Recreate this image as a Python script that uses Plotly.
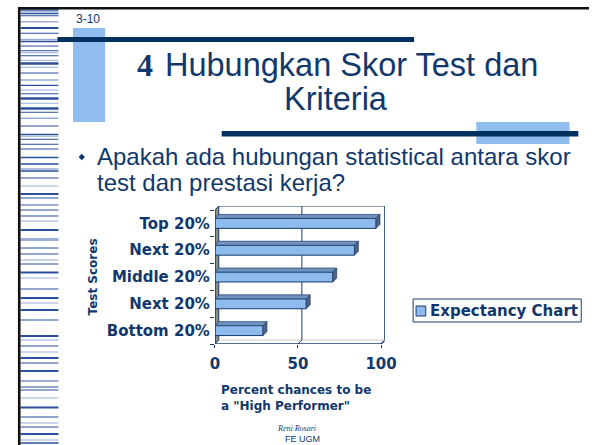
import plotly.graph_objects as go

# ---------------- data ----------------
categories = ["Bottom 20%", "Next 20%", "Middle 20%", "Next 20%", "Top 20%"]
values = [29, 55, 71, 84, 97]
x_ticks = [0, 50, 100]
series_name = "Expectancy Chart"
x_title = "Percent chances to be<br>a \"High Performer\""
y_title = "Test Scores"

# ---------------- styling ----------------
W, H = 601, 445
NAVY = "#12386b"
DARK = "#00315f"
LIGHT = "#8fbdef"
BAR_FILL = "#8dbbee"
BAR_LINE = "#1b3a6b"
TOP_FACE = "#6f93bf"
SIDE_FACE = "#50647f"
WALL = "#8a8a8a"

def px(x):
    return x / W

def py(y):
    return 1 - y / H

DX = 4 / 1.71      # 3D depth in x data units
DY = 4 / 26.8      # 3D depth in y data units
BW = 0.37          # bar thickness
pos = list(range(len(categories)))

fig = go.Figure()
fig.add_trace(go.Bar(
    x=values, y=pos, orientation="h", width=BW, name=series_name,
    marker=dict(color=BAR_FILL, line=dict(color=BAR_LINE, width=1)),
    showlegend=False, hoverinfo="x+y",
))

shapes = []

# ---- slide decoration ----
stripes = [
    (10, 1.5, "d"), (11.7, 1, "l"), (13.5, 1.5, "d"), (15.7, 1, "d"), (21.7, 1.5, "l"),
    (28, 2, "d"), (33.3, 1, "d"), (39.5, 1.5, "l"), (41.5, 1.5, "d"), (46, 1, "d"),
    (50.7, 1, "d"), (52.7, 1, "l"), (55.7, 1, "d"), (60.3, 1, "l"), (63.5, 2.5, "d"),
    (67.3, 1, "l"), (73, 1, "d"), (80, 1.5, "l"), (85.3, 1.2, "d"), (90, 1, "l"),
    (93.7, 1, "d"), (98.5, 2.5, "d"), (103.3, 1, "l"), (108.5, 2.5, "d"), (112.3, 1, "d"),
    (118.3, 1.5, "l"), (126, 1, "d"), (134.5, 1.5, "d"), (136.3, 1, "l"), (139.3, 1, "d"),
    (144.3, 1, "d"), (149, 1.2, "d"), (157.5, 1.5, "d"), (164, 1.5, "d"), (169, 1.5, "l"),
    (171, 1.5, "d"), (178, 1, "d"), (186, 1, "l"), (194, 2, "d"), (198, 1, "d"),
    (205, 2, "l"), (210, 1, "d"), (216, 1, "d"), (221, 1, "l"), (230, 2, "d"),
    (239.5, 3, "l"), (248, 1, "d"), (254, 1, "d"), (260, 1, "l"), (264, 1, "d"),
    (272.5, 2, "d"), (278, 1, "l"), (289, 1, "d"), (298, 2, "d"), (303, 1, "l"),
    (310, 2, "d"), (320, 1, "d"), (336, 2, "d"), (340, 1, "l"), (346, 1, "d"),
    (352, 1, "l"), (358, 2, "d"), (363, 1, "d"), (371, 2, "d"), (381, 2, "l"),
    (387, 1, "d"), (390, 1, "d"), (398, 1, "l"), (407.5, 2, "d"), (417, 1, "d"),
    (423, 1, "l"), (427, 1, "d"), (434, 2, "d"), (440, 1, "l"), (443, 1.5, "d"),
]
for y, h, s in stripes:
    shapes.append(dict(type="rect", xref="paper", yref="paper", layer="below",
                       x0=px(16), x1=px(55), y0=py(y - h / 2), y1=py(y + h / 2),
                       fillcolor="#2a4f9c" if s == "d" else "#9aaed6", line=dict(width=0)))
# black border
shapes.append(dict(type="rect", xref="paper", yref="paper", x0=px(14), x1=px(601),
                   y0=py(9.5), y1=py(7), fillcolor="#111111", line=dict(width=0)))
shapes.append(dict(type="rect", xref="paper", yref="paper", x0=px(13.3), x1=px(16),
                   y0=py(445), y1=py(7), fillcolor="#111111", line=dict(width=0)))
# header light blue blocks and dark rules
shapes.append(dict(type="rect", xref="paper", yref="paper", x0=px(70), x1=px(103),
                   y0=py(122), y1=py(28), fillcolor=LIGHT, line=dict(width=0)))
shapes.append(dict(type="rect", xref="paper", yref="paper", x0=px(54), x1=px(421),
                   y0=py(42), y1=py(37), fillcolor=DARK, line=dict(width=0)))
shapes.append(dict(type="rect", xref="paper", yref="paper", x0=px(485), x1=px(581),
                   y0=py(144), y1=py(122), fillcolor=LIGHT, line=dict(width=0)))
shapes.append(dict(type="rect", xref="paper", yref="paper", x0=px(223), x1=px(590),
                   y0=py(136.5), y1=py(131), fillcolor=DARK, line=dict(width=0)))
# bullet diamond
bx, by, bs = 79, 157, 3.3
shapes.append(dict(type="path", xref="paper", yref="paper",
                   path=f"M {px(bx)} {py(by - bs)} L {px(bx + bs)} {py(by)} L {px(bx)} {py(by + bs)} L {px(bx - bs)} {py(by)} Z",
                   fillcolor=NAVY, line=dict(width=0)))

# ---- 3D chart frame (data coordinates) ----
lo, hi = -0.5, len(categories) - 0.5
ln = dict(color=BAR_LINE, width=1)
shapes.append(dict(type="path", xref="x", yref="y", layer="below",
                   path=f"M 0 {lo} L {DX} {lo + DY} L {DX} {hi + DY} L 0 {hi} Z",
                   fillcolor=WALL, line=ln))
shapes.append(dict(type="line", xref="x", yref="y", layer="below",
                   x0=DX, x1=100 + DX, y0=hi + DY, y1=hi + DY, line=ln))
shapes.append(dict(type="path", xref="x", yref="y", layer="below",
                   path=f"M {100 + DX} {hi + DY} L {100 + DX} {lo + DY} L 100 {lo}",
                   line=dict(color=BAR_LINE, width=1.5)))
shapes.append(dict(type="path", xref="x", yref="y", layer="below",
                   path=f"M {DX} {lo + DY} L {100 + DX} {lo + DY}", line=dict(color="#c8ccd4", width=1)))
shapes.append(dict(type="line", xref="x", yref="y",
                   x0=0, x1=100, y0=lo, y1=lo, line=dict(color=BAR_LINE, width=1.5)))
shapes.append(dict(type="line", xref="x", yref="y",
                   x0=0, x1=0, y0=lo, y1=hi, line=dict(color=BAR_LINE, width=1.5)))
for g in x_ticks[1:-1]:
    shapes.append(dict(type="path", xref="x", yref="y", layer="below",
                       path=f"M {g + DX} {hi + DY} L {g + DX} {lo + DY} L {g} {lo}",
                       line=dict(color=BAR_LINE, width=1)))
for p, v in zip(pos, values):
    t, b = p + BW / 2, p - BW / 2
    shapes.append(dict(type="path", xref="x", yref="y",
                       path=f"M 0 {t} L {v} {t} L {v + DX} {t + DY} L {DX} {t + DY} Z",
                       fillcolor=TOP_FACE, line=dict(color=BAR_LINE, width=0.7)))
    shapes.append(dict(type="path", xref="x", yref="y",
                       path=f"M {v} {b} L {v} {t} L {v + DX} {t + DY} L {v + DX} {b + DY} Z",
                       fillcolor=SIDE_FACE, line=dict(color=BAR_LINE, width=0.7)))

# ---- legend (drawn) ----
shapes.append(dict(type="rect", xref="paper", yref="paper", x0=px(420), x1=px(593),
                   y0=py(322), y1=py(299), fillcolor="white", line=dict(color=BAR_LINE, width=1)))
shapes.append(dict(type="rect", xref="paper", yref="paper", x0=px(423), x1=px(433),
                   y0=py(316), y1=py(306), fillcolor=BAR_FILL, line=dict(color=BAR_LINE, width=1)))

annotations = [
    dict(text="3-10", x=px(71), y=py(19), xanchor="left", yanchor="middle",
         font=dict(family="Liberation Sans", size=12, color=NAVY)),
    dict(text="4", x=px(144), y=py(65), xanchor="center", yanchor="middle",
         font=dict(family="Liberation Serif", size=32, color=NAVY, weight="bold")),
    dict(text="Hubungkan Skor Test dan", x=px(163), y=py(65), xanchor="left", yanchor="middle",
         font=dict(family="Liberation Sans", size=32.5, color=NAVY)),
    dict(text="Kriteria", x=px(341), y=py(99), xanchor="center", yanchor="middle",
         font=dict(family="Liberation Sans", size=32.5, color=NAVY)),
    dict(text="Apakah ada hubungan statistical antara skor", x=px(93), y=py(157),
         xanchor="left", yanchor="middle",
         font=dict(family="Liberation Sans", size=24, color=NAVY)),
    dict(text="test dan prestasi kerja?", x=px(93), y=py(183),
         xanchor="left", yanchor="middle",
         font=dict(family="Liberation Sans", size=24, color=NAVY)),
    dict(text=y_title, x=px(91), y=py(277), textangle=-90, xanchor="center", yanchor="middle",
         font=dict(family="DejaVu Sans", size=12, color=NAVY, weight="bold")),
    dict(text=x_title, x=px(220), y=py(398), xanchor="left", yanchor="middle", align="left",
         font=dict(family="DejaVu Sans", size=12, color=NAVY, weight="bold")),
    dict(text=series_name, x=px(435), y=py(311), xanchor="left", yanchor="middle",
         font=dict(family="DejaVu Sans", size=15, color=NAVY, weight="bold")),
    dict(text="<i>Reni Rosari</i>", x=px(300), y=py(428), xanchor="center", yanchor="middle",
         font=dict(family="Liberation Serif", size=8, color=NAVY)),
    dict(text="FE UGM", x=px(306), y=py(439), xanchor="center", yanchor="middle",
         font=dict(family="Liberation Sans", size=9, color=NAVY)),
]
for a in annotations:
    a.update(xref="paper", yref="paper", showarrow=False)

fig.update_layout(
    width=W, height=H, margin=dict(l=0, r=0, t=0, b=0),
    paper_bgcolor="white", plot_bgcolor="rgba(0,0,0,0)",
    shapes=shapes, annotations=annotations, bargap=0.6,
    xaxis=dict(domain=[px(216), px(391)], range=[0, 100 + DX], tickvals=x_ticks,
               ticks="outside", ticklen=3, tickcolor=BAR_LINE, showgrid=False,
               zeroline=False, showline=False, ticklabelstandoff=3,
               tickfont=dict(family="DejaVu Sans", size=15, color=NAVY, weight="bold"),
               fixedrange=True),
    yaxis=dict(domain=[py(344), py(206)], range=[lo, hi + DY], tickvals=pos,
               ticktext=categories, ticks="", showgrid=False, zeroline=False,
               showline=False, ticklabelstandoff=4,
               minor=dict(tickvals=[p - 0.5 for p in pos] + [hi], ticks="outside",
                          ticklen=4, tickcolor=BAR_LINE),
               tickfont=dict(family="DejaVu Sans", size=15, color=NAVY, weight="bold"),
               fixedrange=True),
)

fig.write_html("out.html", config={"displayModeBar": False},
               post_script="document.body.style.margin='0';document.body.style.overflow='hidden';")
